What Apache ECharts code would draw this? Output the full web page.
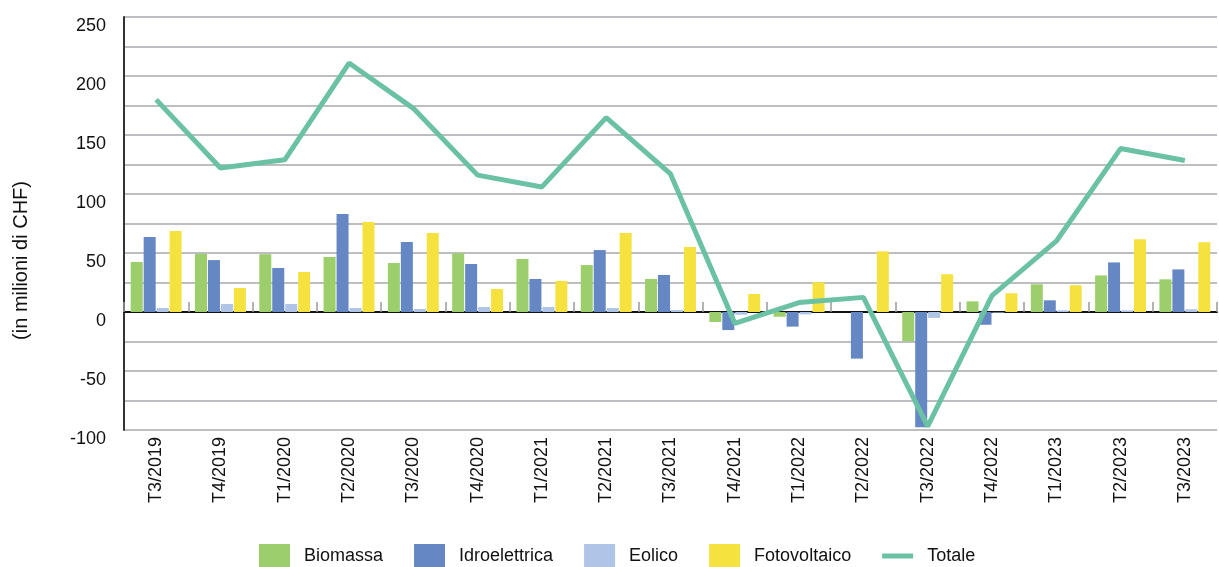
<!DOCTYPE html>
<html>
<head>
<meta charset="utf-8">
<script src="https://cdn.jsdelivr.net/npm/echarts@6/dist/echarts.min.js"></script>
<style>
html,body{margin:0;padding:0;background:#fff;}
#c{width:1219px;height:567px;}
</style>
</head>
<body>
<div id="c"></div>
<script>
const categories = ['T3/2019','T4/2019','T1/2020','T2/2020','T3/2020','T4/2020','T1/2021','T2/2021','T3/2021','T4/2021','T1/2022','T2/2022','T3/2022','T4/2022','T1/2023','T2/2023','T3/2023'];
const biomassa = [42.4, 49.2, 49.0, 46.6, 41.5, 49.7, 44.9, 39.8, 28.0, -8.5, -4.0, 0, -24.8, 9.0, 23.5, 31.0, 27.7];
const idroelettrica = [63.6, 44.0, 37.3, 83.0, 59.3, 40.7, 28.0, 52.5, 31.4, -15.3, -12.4, -39.5, -97.7, -10.8, 9.9, 42.0, 36.1];
const eolico = [3.4, 6.8, 6.8, 3.4, 2.5, 4.2, 4.2, 3.4, 1.7, -2.3, -2.0, 0, -5.0, -0.5, 1.4, 1.4, 2.3];
const fotovoltaico = [68.6, 20.3, 33.9, 76.3, 67.0, 19.5, 26.3, 67.0, 55.0, 15.3, 25.2, 51.4, 32.0, 15.9, 22.7, 61.6, 59.1];
const totale = [180, 122, 129, 211, 172.6, 116, 106, 164.7, 117, -9.6, 8, 12.4, -97, 13.8, 60, 138.5, 128.4];
const yTickLabels = ['-100','-50','0','50','100','150','200','250'];

const FONT = 'Liberation Sans, Arial, sans-serif';
const chart = echarts.init(document.getElementById('c'), null, {renderer:'canvas'});

function bar(name, data, color){
  return {name, type:'bar', data, xAxisIndex:0, yAxisIndex:0, barWidth:12, barGap:'8%',
    itemStyle:{color}, z:2};
}

chart.setOption({
  animation:false,
  backgroundColor:'#ffffff',
  grid:{left:124, right:2, top:17, bottom:137, containLabel:false},
  legend:{
    left:254, top:539, itemWidth:31, itemHeight:24, itemGap:31,
    textStyle:{fontFamily:FONT, fontSize:18, color:'#111', padding:[0,0,0,9]},
    data:[
      {name:'Biomassa', icon:'rect'},
      {name:'Idroelettrica', icon:'rect'},
      {name:'Eolico', icon:'rect'},
      {name:'Fotovoltaico', icon:'rect'},
      {name:'Totale', icon:'path://M0,0 L31,0 L31,5 L0,5 Z'}
    ]
  },
  graphic:[{
    type:'text', left:11, top:181, rotation:Math.PI/2,
    style:{text:'(in milioni di CHF)', font:'20px ' + FONT, fill:'#111'}
  }],
  xAxis:[
    {type:'category', data:categories, position:'bottom',
     axisLine:{show:false, onZero:false}, axisTick:{show:false},
     axisLabel:{rotate:90, fontFamily:FONT, fontSize:18, color:'#111', margin:7, interval:0},
     splitLine:{show:false}},
    {type:'category', data:categories, position:'bottom',
     axisLine:{show:true, onZero:true, lineStyle:{color:'#111', width:2}},
     axisTick:{show:true, inside:true, length:10, lineStyle:{color:'#999', width:1.5}},
     axisLabel:{show:false}, splitLine:{show:false}}
  ],
  yAxis:{
    type:'value', min:-100, max:250, interval:25,
    axisLine:{show:true, lineStyle:{color:'#333', width:2}},
    axisTick:{show:false},
    axisLabel:{fontFamily:FONT, fontSize:18, color:'#111', margin:18, verticalAlign:'top',
      formatter:function(v){ const s=String(v); return yTickLabels.indexOf(s)>=0 ? s : ''; }},
    splitLine:{show:true, lineStyle:{color:'#a6a9ad', width:1.5}}
  },
  series:[
    bar('Biomassa', biomassa, '#9ccf6c'),
    bar('Idroelettrica', idroelettrica, '#6587c4'),
    bar('Eolico', eolico, '#aec5e7'),
    bar('Fotovoltaico', fotovoltaico, '#f5e23e'),
    {name:'Totale', type:'line', data:totale, xAxisIndex:0, yAxisIndex:0,
     symbol:'none', lineStyle:{color:'#6bc1a3', width:5}, itemStyle:{color:'#6bc1a3'}, z:5}
  ]
});
</script>
</body>
</html>
